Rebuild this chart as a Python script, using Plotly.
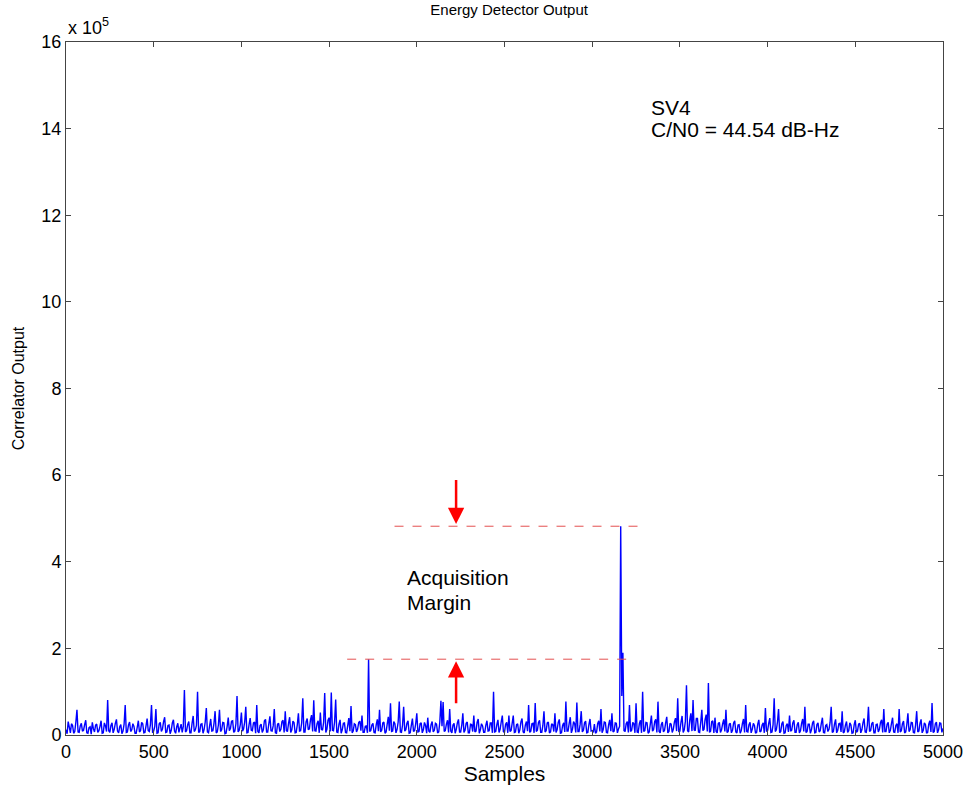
import plotly.graph_objects as go

# Energy detector output (units of 1e5), one value every 6.25 samples
sample_step = 6.25
output_vals = [
    # 0 - 250
    0.12, 0.03, 0.31, 0.18, 0.05, 0.26, 0.22, 0.04, 0.08, 0.3, 0.58, 0.07, 0.06, 0.21, 0.27, 0.09, 0.11, 0.24, 0.34, 0.05,
    0.04, 0.17, 0.19, 0.02, 0.29, 0.14, 0.07, 0.23, 0.25, 0.06, 0.1, 0.2, 0.33, 0.04, 0.05, 0.28, 0.21, 0.08, 0.81, 0.1,
    # 250 - 500
    0.06, 0.22, 0.28, 0.05, 0.13, 0.27, 0.36, 0.09, 0.05, 0.19, 0.24, 0.03, 0.09, 0.25, 0.69, 0.06, 0.07, 0.23, 0.3, 0.08,
    0.12, 0.26, 0.2, 0.04, 0.04, 0.18, 0.33, 0.07, 0.1, 0.29, 0.26, 0.05, 0.06, 0.21, 0.38, 0.1, 0.08, 0.24, 0.69, 0.05,
    # 500 - 750
    0.09, 0.2, 0.6, 0.04, 0.05, 0.26, 0.29, 0.08, 0.14, 0.31, 0.41, 0.06, 0.07, 0.22, 0.23, 0.03, 0.11, 0.28, 0.35, 0.09,
    0.04, 0.19, 0.27, 0.06, 0.16, 0.25, 0.06, 0.2, 1.04, 0.07, 0.1, 0.24, 0.31, 0.05, 0.05, 0.27, 0.44, 0.08, 0.12, 0.22,
    # 750 - 1000
    1.0, 0.06, 0.08, 0.25, 0.26, 0.04, 0.13, 0.3, 0.62, 0.07, 0.05, 0.21, 0.37, 0.09, 0.1, 0.27, 0.55, 0.05, 0.07, 0.23,
    0.58, 0.08, 0.12, 0.29, 0.28, 0.03, 0.04, 0.2, 0.4, 0.1, 0.15, 0.32, 0.33, 0.06, 0.09, 0.26, 0.9, 0.07, 0.11, 0.24,
    # 1000 - 1250
    0.52, 0.09, 0.14, 0.3, 0.65, 0.05, 0.06, 0.24, 0.39, 0.11, 0.1, 0.28, 0.3, 0.04, 0.69, 0.08, 0.05, 0.22, 0.25, 0.06,
    0.12, 0.33, 0.36, 0.07, 0.07, 0.26, 0.43, 0.1, 0.09, 0.21, 0.6, 0.05, 0.04, 0.25, 0.27, 0.08, 0.13, 0.31, 0.34, 0.06,
    # 1250 - 1500
    0.55, 0.1, 0.08, 0.27, 0.41, 0.06, 0.12, 0.32, 0.29, 0.05, 0.06, 0.24, 0.5, 0.09, 0.1, 0.28, 0.85, 0.07, 0.07, 0.3,
    0.38, 0.12, 0.14, 0.35, 0.46, 0.08, 0.8, 0.1, 0.09, 0.26, 0.33, 0.05, 0.52, 0.13, 0.11, 0.29, 0.97, 0.06, 0.13, 0.34,
    # 1500 - 1750
    0.4, 0.08, 0.98, 0.11, 0.1, 0.3, 0.82, 0.07, 0.06, 0.25, 0.35, 0.04, 0.12, 0.27, 0.28, 0.06, 0.05, 0.22, 0.39, 0.09,
    0.67, 0.05, 0.09, 0.26, 0.24, 0.07, 0.13, 0.29, 0.32, 0.1, 0.45, 0.06, 0.06, 0.2, 0.21, 0.05, 1.75, 0.08, 0.1, 0.23,
    # 1750 - 2000
    0.27, 0.06, 0.05, 0.24, 0.36, 0.09, 0.58, 0.07, 0.11, 0.28, 0.3, 0.04, 0.07, 0.25, 0.42, 0.1, 0.73, 0.08, 0.09, 0.31,
    0.26, 0.05, 0.13, 0.3, 0.77, 0.07, 0.06, 0.23, 0.65, 0.09, 0.12, 0.27, 0.33, 0.04, 0.05, 0.22, 0.38, 0.08, 0.1, 0.26,
    # 2000 - 2250
    0.5, 0.07, 0.08, 0.26, 0.28, 0.05, 0.12, 0.29, 0.22, 0.04, 0.4, 0.09, 0.06, 0.24, 0.31, 0.07, 0.11, 0.27, 0.25, 0.05,
    0.07, 0.3, 0.79, 0.2, 0.76, 0.08, 0.1, 0.25, 0.34, 0.06, 0.6, 0.09, 0.05, 0.23, 0.27, 0.04, 0.13, 0.28, 0.36, 0.07,
    # 2250 - 2500
    0.07, 0.22, 0.5, 0.06, 0.11, 0.27, 0.3, 0.05, 0.05, 0.25, 0.24, 0.08, 0.45, 0.07, 0.09, 0.29, 0.37, 0.04, 0.12, 0.26,
    0.21, 0.06, 0.06, 0.23, 0.33, 0.09, 0.1, 0.28, 0.28, 0.05, 1.0, 0.07, 0.08, 0.24, 0.35, 0.06, 0.13, 0.3, 0.45, 0.08,
    # 2500 - 2750
    0.06, 0.25, 0.29, 0.05, 0.45, 0.08, 0.1, 0.27, 0.45, 0.06, 0.07, 0.24, 0.26, 0.04, 0.12, 0.3, 0.38, 0.07, 0.05, 0.23,
    0.31, 0.09, 0.69, 0.06, 0.09, 0.26, 0.27, 0.05, 0.74, 0.08, 0.11, 0.29, 0.34, 0.06, 0.06, 0.22, 0.55, 0.07, 0.1, 0.28,
    # 2750 - 3000
    0.3, 0.05, 0.07, 0.26, 0.24, 0.08, 0.5, 0.06, 0.12, 0.29, 0.36, 0.04, 0.05, 0.22, 0.28, 0.07, 0.77, 0.09, 0.09, 0.27,
    0.41, 0.05, 0.13, 0.31, 0.26, 0.06, 0.75, 0.08, 0.08, 0.25, 0.55, 0.07, 0.11, 0.28, 0.32, 0.05, 0.06, 0.24, 0.37, 0.09,
    # 3000 - 3250 (correlation peak)
    0.1, 0.06, 0.25, 0.04, 0.07, 0.27, 0.33, 0.08, 0.6, 0.05, 0.12, 0.3, 0.29, 0.06, 0.05, 0.24, 0.35, 0.09, 0.5, 0.07,
    0.09, 0.28, 0.27, 0.05, 0.14, 0.2, 4.82, 0.9, 1.9, 0.1, 0.08, 0.26, 0.31, 0.06, 0.69, 0.08, 0.11, 0.29, 0.26, 0.05,
    # 3250 - 3500
    0.73, 0.07, 0.06, 0.26, 0.34, 0.05, 1.0, 0.08, 0.1, 0.29, 0.28, 0.04, 0.07, 0.25, 0.45, 0.09, 0.12, 0.31, 0.36, 0.06,
    0.77, 0.08, 0.05, 0.24, 0.3, 0.07, 0.11, 0.28, 0.42, 0.05, 0.08, 0.27, 0.25, 0.06, 0.13, 0.3, 0.39, 0.09, 0.85, 0.07,
    # 3500 - 3750
    0.09, 0.3, 0.44, 0.06, 0.12, 0.32, 1.15, 0.1, 0.07, 0.35, 0.5, 0.09, 0.81, 0.12, 0.1, 0.38, 0.38, 0.07, 0.06, 0.29,
    0.58, 0.1, 0.13, 0.36, 0.47, 0.08, 1.2, 0.06, 0.09, 0.31, 0.33, 0.05, 0.4, 0.08, 0.05, 0.27, 0.29, 0.06, 0.12, 0.26,
    # 3750 - 4000
    0.36, 0.08, 0.58, 0.06, 0.08, 0.25, 0.27, 0.05, 0.11, 0.28, 0.33, 0.07, 0.05, 0.23, 0.24, 0.04, 0.1, 0.26, 0.37, 0.06,
    0.69, 0.08, 0.07, 0.24, 0.29, 0.05, 0.13, 0.27, 0.22, 0.04, 0.06, 0.25, 0.35, 0.07, 0.09, 0.23, 0.28, 0.05, 0.62, 0.08,
    # 4000 - 4250
    0.1, 0.27, 0.39, 0.06, 0.07, 0.24, 0.85, 0.08, 0.12, 0.3, 0.6, 0.05, 0.08, 0.26, 0.31, 0.04, 0.05, 0.22, 0.26, 0.07,
    0.45, 0.09, 0.11, 0.28, 0.34, 0.06, 0.06, 0.24, 0.29, 0.05, 0.1, 0.27, 0.37, 0.08, 0.65, 0.06, 0.08, 0.25, 0.25, 0.04,
    # 4250 - 4500
    0.12, 0.28, 0.33, 0.05, 0.06, 0.24, 0.28, 0.07, 0.1, 0.27, 0.4, 0.06, 0.05, 0.22, 0.24, 0.08, 0.13, 0.29, 0.65, 0.06,
    0.08, 0.25, 0.36, 0.05, 0.11, 0.26, 0.27, 0.07, 0.55, 0.05, 0.07, 0.23, 0.31, 0.06, 0.1, 0.28, 0.23, 0.04, 0.05, 0.24,
    # 4500 - 4750
    0.34, 0.06, 0.09, 0.25, 0.27, 0.05, 0.12, 0.28, 0.38, 0.07, 0.06, 0.23, 0.65, 0.08, 0.1, 0.26, 0.3, 0.05, 0.05, 0.24,
    0.25, 0.07, 0.13, 0.29, 0.35, 0.06, 0.6, 0.08, 0.08, 0.25, 0.29, 0.05, 0.11, 0.27, 0.4, 0.07, 0.06, 0.22, 0.26, 0.05,
    # 4750 - 5000
    0.6, 0.07, 0.1, 0.26, 0.32, 0.05, 0.07, 0.24, 0.5, 0.08, 0.12, 0.29, 0.28, 0.06, 0.05, 0.23, 0.55, 0.07, 0.09, 0.27,
    0.36, 0.05, 0.11, 0.28, 0.24, 0.04, 0.06, 0.25, 0.33, 0.07, 0.74, 0.06, 0.08, 0.26, 0.3, 0.05, 0.12, 0.28, 0.27, 0.06,
    0.15,
]
samples = [i * sample_step for i in range(len(output_vals))]

# Acquisition margin: correct-peak level vs. largest wrong peak
peak_level = max(output_vals)
noise_peak_level = 1.75
upper_span = [1873, 3284]
lower_span = [1603, 3211]
arrow_sample = 2224

x_ticks = [0, 500, 1000, 1500, 2000, 2500, 3000, 3500, 4000, 4500, 5000]
y_ticks = [0, 2, 4, 6, 8, 10, 12, 14, 16]

FONT = "Liberation Sans, Arial, sans-serif"
RED = "rgb(228,80,80)"
TXT = 21

fig = go.Figure()
fig.add_trace(go.Scatter(
    x=samples, y=output_vals, mode="lines",
    line=dict(color="rgb(0,0,255)", width=1.4, simplify=False),
    showlegend=False, hoverinfo="skip",
))

# dashed reference levels
fig.add_trace(go.Scatter(
    x=upper_span, y=[peak_level, peak_level], mode="lines",
    line=dict(color=RED, width=1, dash="dash"), showlegend=False,
))
fig.add_trace(go.Scatter(
    x=lower_span, y=[noise_peak_level, noise_peak_level], mode="lines",
    line=dict(color=RED, width=1, dash="dash"), showlegend=False,
))

annotations = [
    # arrows pointing at the two levels
    dict(x=arrow_sample, y=peak_level + 0.05, ax=arrow_sample, ay=peak_level + 1.1,
         xref="x", yref="y", axref="x", ayref="y", text="", showarrow=True,
         arrowhead=2, arrowsize=1.3, arrowwidth=2.5, arrowcolor="red"),
    dict(x=arrow_sample, y=noise_peak_level - 0.05, ax=arrow_sample, ay=noise_peak_level - 1.05,
         xref="x", yref="y", axref="x", ayref="y", text="", showarrow=True,
         arrowhead=2, arrowsize=1.3, arrowwidth=2.5, arrowcolor="red"),
    dict(x=1930, y=3.63, xref="x", yref="y", text="Acquisition", showarrow=False,
         xanchor="left", yanchor="middle", font=dict(size=TXT, color="black", family=FONT)),
    dict(x=1930, y=3.05, xref="x", yref="y", text="Margin", showarrow=False,
         xanchor="left", yanchor="middle", font=dict(size=TXT, color="black", family=FONT)),
    dict(x=3324, y=14.48, xref="x", yref="y", text="SV4", showarrow=False,
         xanchor="left", yanchor="middle", font=dict(size=TXT, color="black", family=FONT)),
    dict(x=3324, y=13.97, xref="x", yref="y", text="C/N0 = 44.54 dB-Hz", showarrow=False,
         xanchor="left", yanchor="middle", font=dict(size=TXT, color="black", family=FONT)),
    # axis multiplier
    dict(x=0, y=1, xref="paper", yref="paper", text="x 10<sup>5</sup>", showarrow=False,
         xanchor="left", yanchor="bottom", xshift=0, yshift=2,
         font=dict(size=18, color="black", family=FONT)),
]

axis_common = dict(
    showline=True, linecolor="#444", linewidth=1, mirror="ticks",
    ticks="inside", ticklen=5, tickcolor="#444", showgrid=False, zeroline=False,
    tickfont=dict(size=18, color="black", family=FONT),
)

fig.update_layout(
    width=975, height=790,
    margin=dict(l=66, r=23, t=42, b=55),
    paper_bgcolor="white", plot_bgcolor="white",
    title=dict(text="Energy Detector Output", x=0.5222, xanchor="center",
               y=0.994, yanchor="top", font=dict(size=15, color="black", family=FONT)),
    xaxis=dict(range=[0, 5000], tickvals=x_ticks,
               title=dict(text="Samples", standoff=2, font=dict(size=TXT, color="black", family=FONT)),
               **axis_common),
    yaxis=dict(range=[0, 16], tickvals=y_ticks,
               title=dict(text="Correlator Output", standoff=12, font=dict(size=16, color="black", family=FONT)),
               **axis_common),
    annotations=annotations,
)

fig.write_html("out.html")
